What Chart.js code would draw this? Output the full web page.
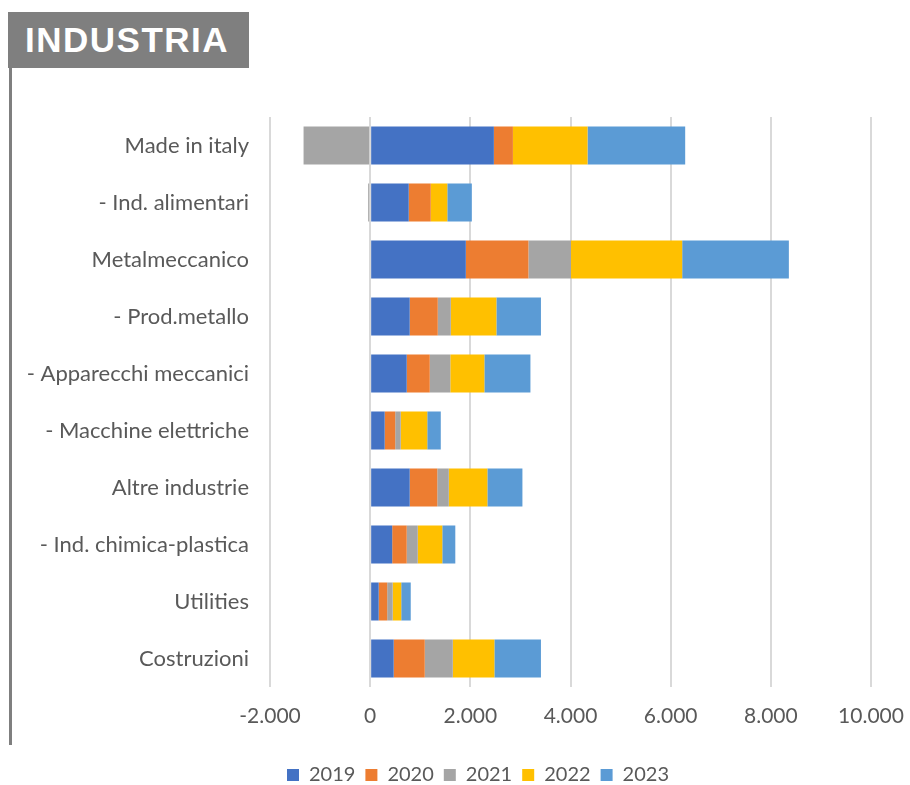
<!DOCTYPE html>
<html>
<head>
<meta charset="utf-8">
<script src="https://cdn.jsdelivr.net/npm/chart.js@4.4.1/dist/chart.umd.min.js"></script>
<style>
  html, body { margin: 0; padding: 0; background: #ffffff; overflow: hidden; }
  #wrap { position: relative; width: 910px; height: 785px; overflow: hidden; }
  #title {
    position: absolute; left: 8px; top: 12px; width: 241px; height: 56px;
    background: #7f7f7f; color: #ffffff;
    font-family: "Liberation Sans", Arial, sans-serif; font-weight: bold;
    font-size: 35px; letter-spacing: 1.5px; line-height: 56px;
    box-sizing: border-box; padding-left: 17px;
  }
  #vline { position: absolute; left: 9px; top: 68px; width: 3px; height: 677px; background: #7f7f7f; }
  #cv { position: absolute; left: 0; top: 0; }
</style>
</head>
<body>
<div id="wrap">
  <canvas id="cv" width="910" height="795"></canvas>
  <div id="title">INDUSTRIA</div>
  <div id="vline"></div>
</div>
<script>
const categories = [
  "Made in italy",
  "- Ind. alimentari",
  "Metalmeccanico",
  "- Prod.metallo",
  "- Apparecchi meccanici",
  "- Macchine elettriche",
  "Altre industrie",
  "- Ind. chimica-plastica",
  "Utilities",
  "Costruzioni"
];
const seriesNames = ["2019", "2020", "2021", "2022", "2023"];
const v2019 = [2470, 770, 1910, 790, 730, 290, 790, 440, 170, 470];
const v2020 = [380, 440, 1250, 560, 460, 210, 550, 290, 170, 620];
const v2021 = [-1330, -40, 850, 260, 410, 110, 230, 220, 110, 560];
const v2022 = [1490, 330, 2220, 910, 680, 530, 770, 490, 170, 830];
const v2023 = [1950, 490, 2130, 890, 920, 270, 700, 260, 190, 930];
const xTicks = [-2000, 0, 2000, 4000, 6000, 8000, 10000];
const colors = ["#4472C4", "#ED7D31", "#A5A5A5", "#FFC000", "#5B9BD5"];

function fmt(v) {
  const s = Math.abs(v).toString().replace(/\B(?=(\d{3})+(?!\d))/g, ".");
  return (v < 0 ? "-" : "") + s;
}

const allSeries = [v2019, v2020, v2021, v2022, v2023];
const datasets = allSeries.map((d, i) => ({
  label: seriesNames[i],
  data: d,
  backgroundColor: colors[i],
  borderWidth: 0,
  barPercentage: 0.667,
  categoryPercentage: 1.0
}));

const FONT = "Lato, 'Open Sans', sans-serif";
const GREY_TXT = "#595959";

const shiftLegend = {
  id: "shiftLegend",
  afterLayout(chart) {
    const l = chart.legend;
    if (l) { l.left += 65; l.width -= 65; }
  }
};

new Chart(document.getElementById("cv"), {
  type: "bar",
  data: { labels: categories, datasets: datasets },
  plugins: [shiftLegend],
  options: {
    indexAxis: "y",
    responsive: false,
    animation: false,
    layout: { padding: { left: 20, right: 39, top: 117, bottom: 0 } },
    plugins: {
      legend: {
        position: "bottom",
        labels: {
          boxWidth: 12, boxHeight: 12, padding: 10,
          color: GREY_TXT,
          font: { family: FONT, size: 20 }
        }
      },
      tooltip: { enabled: false }
    },
    scales: {
      x: {
        stacked: true,
        min: -2000, max: 10000,
        afterBuildTicks: (s) => { s.ticks = xTicks.map(v => ({ value: v })); },
        afterFit: (s) => { s.height = 68; s.paddingRight = 0; s.paddingLeft = 0; },
        grid: { color: "#d9d9d9", lineWidth: 2, drawTicks: false },
        border: { display: false },
        ticks: {
          padding: 17,
          color: GREY_TXT,
          font: { family: FONT, size: 21 },
          callback: (v) => fmt(v)
        }
      },
      y: {
        stacked: true,
        afterFit: (s) => { s.width = 250; },
        grid: { display: false, drawTicks: false },
        border: { display: false },
        ticks: {
          padding: 21,
          color: GREY_TXT,
          font: { family: FONT, size: 22 }
        }
      }
    }
  }
});
</script>
</body>
</html>
